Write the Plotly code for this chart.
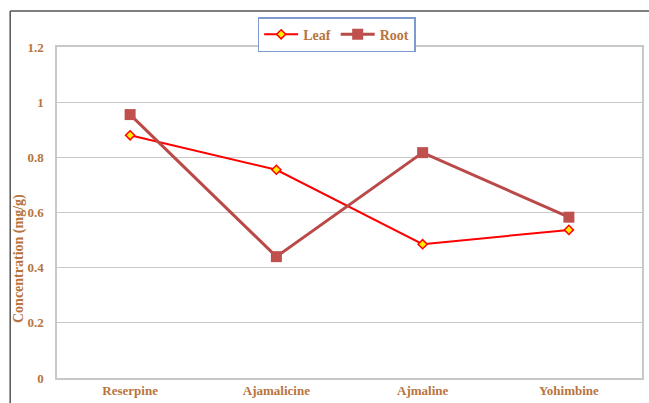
import plotly.graph_objects as go

# Alkaloid concentrations measured in leaf and root tissue
compounds = ["Reserpine", "Ajamalicine", "Ajmaline", "Yohimbine"]
leaf_mg_g = [0.88, 0.755, 0.485, 0.537]
root_mg_g = [0.955, 0.44, 0.817, 0.583]
y_ticks = [0, 0.2, 0.4, 0.6, 0.8, 1, 1.2]
y_title = "Concentration (mg/g)"

BROWN = "#b8743e"
FONT = "Liberation Serif, Times New Roman, serif"

fig = go.Figure()
fig.add_trace(go.Scatter(
    x=compounds, y=leaf_mg_g, name="Leaf", mode="lines+markers",
    line=dict(color="#ff0000", width=2),
    marker=dict(symbol="diamond", size=7, color="#ffee00",
                line=dict(color="#ff0000", width=1.5)),
))
fig.add_trace(go.Scatter(
    x=compounds, y=root_mg_g, name="Root", mode="lines+markers",
    line=dict(color="#b94a48", width=3),
    marker=dict(symbol="square", size=11, color="#c0504d",
                line=dict(color="#c0504d", width=0)),
))

# outer frame lines (left and top edges of the chart frame)
frame = dict(color="#555555", width=1.5)
fig.add_shape(type="line", xref="paper", yref="paper",
              x0=-0.080, x1=-0.080, y0=-0.12, y1=1.109, line=frame)
fig.add_shape(type="line", xref="paper", yref="paper",
              x0=-0.080, x1=1.02, y0=1.109, y1=1.109, line=frame)

# rotated y-axis title, sitting in the lower half of the axis
fig.add_annotation(
    text=y_title, xref="paper", yref="paper", x=-0.065, y=0.3625,
    xanchor="center", yanchor="middle", textangle=-90, showarrow=False,
    font=dict(family=FONT, size=14, color=BROWN, weight="bold"),
)

tick_font = dict(family=FONT, size=13, color=BROWN, weight="bold")

fig.update_layout(
    width=649, height=403,
    margin=dict(l=57, r=5, t=47, b=25),
    paper_bgcolor="white", plot_bgcolor="white",
    font=dict(family=FONT, color=BROWN, size=13),
    showlegend=True,
    legend=dict(
        orientation="h", x=0.478, y=1.09, xanchor="center", yanchor="top",
        bordercolor="#7d9bd0", borderwidth=1.5, bgcolor="white",
        font=dict(family=FONT, size=14, color=BROWN, weight="bold"),
        itemwidth=34, tracegroupgap=0,
    ),
    xaxis=dict(
        range=[-0.5, 3.5],
        showgrid=False, showline=True, linecolor="#c8c8c8", linewidth=1.5,
        mirror=True, ticks="", tickfont=tick_font,
    ),
    yaxis=dict(
        range=[0, 1.2], tickvals=y_ticks, ticktext=[f"{v:g}" for v in y_ticks],
        showgrid=True, gridcolor="#c8c8c8", gridwidth=1,
        showline=True, linecolor="#c8c8c8", linewidth=1.5, mirror=True,
        zeroline=False, ticks="", ticklen=0, ticklabelstandoff=9,
        tickfont=tick_font,
    ),
)

fig.write_html("out.html")
